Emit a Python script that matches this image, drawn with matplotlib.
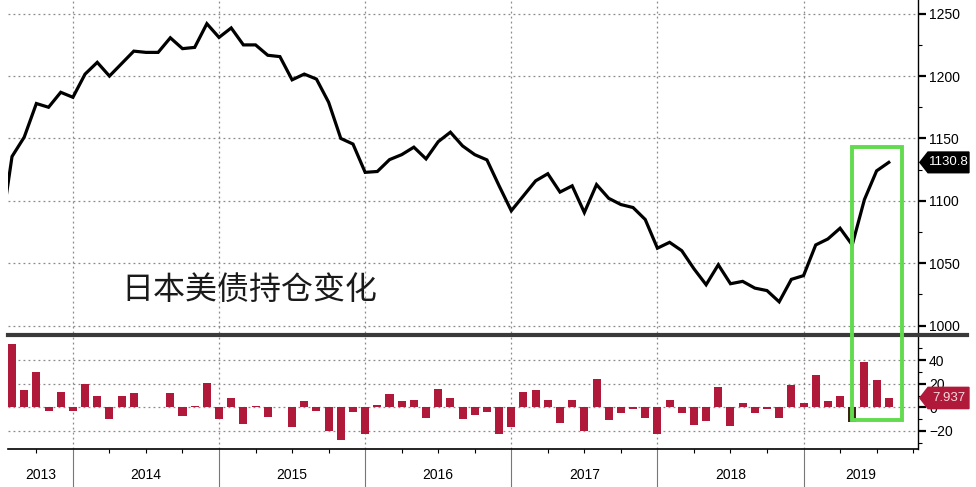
import numpy as np
import matplotlib.pyplot as plt
from matplotlib.patches import Polygon, Rectangle
from matplotlib.lines import Line2D

## Datos: tenencias de bonos del Tesoro de EE.UU. por Japón (mensual, jun 2013 - jul 2019)
start_month = "2013-06"
holdings = [1069, 1135.5, 1151, 1178, 1175, 1187, 1183, 1201.6, 1211, 1200,
            1210, 1220, 1219, 1219, 1230.7, 1222, 1223, 1242, 1231, 1238.6,
            1225, 1225, 1216.7, 1215.6, 1197, 1201.6, 1197.6, 1179, 1150, 1145.5,
            1122.8, 1123.5, 1133, 1137, 1143, 1133.6, 1147.4, 1155, 1144, 1137,
            1132.8, 1112, 1092, 1104, 1116, 1121.7, 1107, 1112, 1090.6, 1113,
            1102, 1097, 1094.6, 1085, 1062, 1066.7, 1060, 1045.5, 1032.7, 1048.7,
            1033.5, 1035.4, 1030, 1028, 1019, 1037, 1040, 1064.6, 1069.4, 1078,
            1064.6, 1101, 1124, 1130.8]
# cambio mensual (jul 2013 - jul 2019)
changes = [54, 14.4, 30.3, -3, 13, -3, 20, 10, -10.3, 10,
           11.8, 0.3, 0.3, 11.8, -7.4, 1.2, 21, -10.3, 8.2, -13.8,
           1, -8.2, 0.3, -17, 5, -3, -20, -28, -3.8, -22.4,
           2, 10.9, 5, 6.5, -9, 15.3, 8.2, -10.3, -6.5, -3.8,
           -23, -17, 13, 14.4, 5.9, -13.5, 5.9, -20, 24, -10.6,
           -4.7, -1, -8.8, -22.4, 5.9, -4.7, -15, -11.2, 17.6, -15.9,
           4.1, -4.7, -1, -9, 18.8, 4.1, 27, 5, 10, -12.6,
           38.2, 23.2, 7.937]
years = ["2013", "2014", "2015", "2016", "2017", "2018", "2019"]
title = "日本美债持仓变化"

line_color = "black"
bar_color = "#b0193a"
dark_bar = "#3b2616"
green = "#62dc4e"
grid_kw = dict(color="#8a8a8a", linestyle=(0, (1.5, 2.5)), linewidth=0.9)

plt.rcParams["font.family"] = ["Liberation Sans", "DejaVu Sans"]

# indice mensual: 0 = jul 2013
x_line = np.arange(len(holdings)) - 1
x_bar = np.arange(len(changes))
year_edges = [5 + 12 * i for i in range(6)]  # fin de dic de cada año
xlim = (-0.33, 74.4)

fig = plt.figure(figsize=(9.76, 4.87), dpi=100)
ax = fig.add_axes([8 / 976, 1 - 333 / 487, 910 / 976, 333 / 487])
ax2 = fig.add_axes([8 / 976, 1 - 449 / 487, 910 / 976, 112 / 487])

## Panel superior: linea
ax.plot(x_line, holdings, color=line_color, lw=2.3, solid_joinstyle="miter", zorder=3)
ax.set_yticks([1000, 1050, 1100, 1150, 1200, 1250])
ax.set_yticks([1025, 1075, 1125, 1175, 1225], minor=True)
ax.set_xticks([])
ax.set_xlim(*xlim)
ax.set_ylim(994, 1261)
for t in [1000, 1050, 1100, 1150, 1200, 1250]:
    ax.axhline(t, **grid_kw, zorder=1)
for e in year_edges:
    ax.axvline(e, **grid_kw, zorder=1)

## Panel inferior: barras
colors = [bar_color] * len(changes)
colors[69] = dark_bar
ax2.bar(x_bar, changes, width=0.66, color=colors, zorder=3)
ax2.set_yticks([-20, 0, 20, 40])
ax2.set_yticks([-30, -10, 10, 30, 50], minor=True)
for t in [-20, 0, 20, 40]:
    ax2.axhline(t, **grid_kw, zorder=1)
for e in year_edges:
    ax2.axvline(e, **grid_kw, zorder=1)

# eje x inferior: ticks trimestrales y separadores de año
quarters = [e + q for e in [-7] + year_edges for q in (3, 6, 9) if xlim[0] < e + q < xlim[1]]
ax2.set_xticks(quarters)
ax2.set_xticks(year_edges, minor=True)
ax2.set_xlim(*xlim)
ax2.set_ylim(-35.3, 59.6)
ax2.spines["bottom"].set_linewidth(1.2)
ax2.tick_params(axis="x", which="major", direction="out", length=3, width=0.8, labelbottom=False)
ax2.tick_params(axis="x", which="minor", direction="out", length=34, width=0.8,
                color="#777777", labelbottom=False)
edges = [xlim[0]] + year_edges + [xlim[1]]
for i, y in enumerate(years):
    ax2.text((edges[i] + edges[i + 1]) / 2, -0.23, y, transform=ax2.get_xaxis_transform(),
             ha="center", va="center", fontsize=10)

for a in (ax, ax2):
    a.yaxis.tick_right()
    a.spines["left"].set_visible(False)
    a.spines["top"].set_visible(False)
    a.spines["right"].set_linewidth(1.0)
    a.tick_params(axis="y", which="major", direction="out", length=6, width=1.6,
                  pad=2, labelsize=10, colors="black")
    a.tick_params(axis="y", which="minor", direction="out", length=3, width=0.8)
ax.spines["bottom"].set_visible(False)

## Etiquetas de ultimo valor
def value_tag(a, value, text, fc, tc, half):
    h = half
    poly = Polygon([(1.002, value), (1.011, value + h), (1.056, value + h),
                    (1.056, value - h), (1.011, value - h)],
                   closed=True, transform=a.get_yaxis_transform(), fc=fc, ec=fc,
                   clip_on=False, zorder=5)
    a.add_patch(poly)
    a.text(1.0335, value, text, transform=a.get_yaxis_transform(), ha="center",
           va="center", color=tc, fontsize=9.5, zorder=6, clip_on=False)

value_tag(ax, holdings[-1], f"{holdings[-1]:.1f}", "black", "white", 8.3)
value_tag(ax2, changes[-1], f"{changes[-1]:.3f}", bar_color, "#f6d9df", 9.0)

## Linea separadora gruesa entre paneles
fig.add_artist(Line2D([8 / 976, 967 / 976], [1 - 335 / 487] * 2, color="#3a3a3a",
                      lw=3.0, transform=fig.transFigure))

## Recuadro verde sobre los ultimos meses
fig.canvas.draw()
inv = fig.transFigure.inverted()
x0, y1 = inv.transform(ax.transData.transform((69.0, 1143)))
x1, y0 = inv.transform(ax2.transData.transform((73.1, -10.8)))
fig.add_artist(Rectangle((x0, y0), x1 - x0, y1 - y0, transform=fig.transFigure,
                         fill=False, ec=green, lw=2.8, zorder=10))

## Titulo en chino
fig.text(0.255, 0.405, title, ha="center", va="center", fontsize=23,
         family=["Noto Sans CJK SC", "DejaVu Sans"], fontweight="light", color="#1a1a1a")

fig.savefig("out.png", dpi=100)
